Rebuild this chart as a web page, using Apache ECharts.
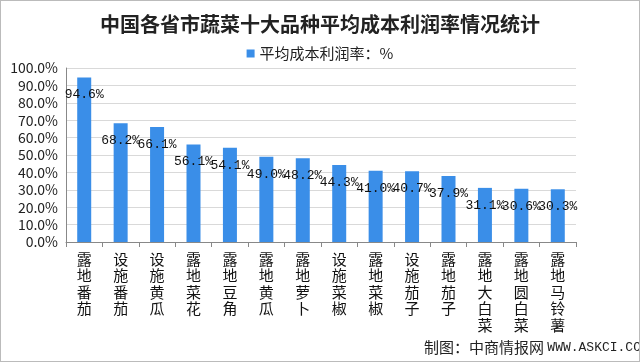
<!DOCTYPE html>
<html><head><meta charset="utf-8">
<script src="https://cdn.jsdelivr.net/npm/echarts@6/dist/echarts.min.js"></script>
<style>html,body{margin:0;padding:0;background:#fff}#c{width:640px;height:362px;box-sizing:border-box;border:1px solid #bbb}</style>
</head><body><div id="c"></div>
<script>
const categories = ['露地番茄','设施番茄','设施黄瓜','露地菜花','露地豆角','露地黄瓜','露地萝卜','设施菜椒','露地菜椒','设施茄子','露地茄子','露地大白菜','露地圆白菜','露地马铃薯'];
const profitRate = [94.6, 68.2, 66.1, 56.1, 54.1, 49.0, 48.2, 44.3, 41.0, 40.7, 37.9, 31.1, 30.6, 30.3];
const titleText = '中国各省市蔬菜十大品种平均成本利润率情况统计';
const seriesName = '平均成本利润率：%';
const sourceLabel = '制图：中商情报网';
const sourceUrl = 'WWW.ASKCI.COM';

const chart = echarts.init(document.getElementById('c'));
chart.setOption({
  animation: false,
  backgroundColor: '#fff',
  title: {
    text: titleText, left: 'center', top: 8,
    textStyle: { fontSize: 20, fontWeight: 'bold', color: '#222', fontFamily: 'Noto Sans CJK SC' }
  },
  legend: {
    top: 40, left: 'center', itemWidth: 8, itemHeight: 8, itemGap: 4,
    icon: 'rect',
    textStyle: { fontSize: 15, color: '#222', fontFamily: 'Noto Sans CJK SC' },
    data: [seriesName]
  },
  graphic: [{
    type: 'text', left: 423, top: 339,
    style: {
      text: '{a|' + sourceLabel + '} {b|' + sourceUrl + '}',
      rich: {
        a: { fontSize: 15, fill: '#222', fontFamily: 'Noto Sans CJK SC' },
        b: { fontSize: 13, fill: '#222', fontFamily: 'Liberation Mono' }
      }
    }
  }],
  grid: { left: 65, right: 63, top: 67, bottom: 119 },
  xAxis: {
    type: 'category', data: categories,
    axisLine: { lineStyle: { color: '#888' } },
    axisTick: { show: true, length: 5, lineStyle: { color: '#888' } },
    axisLabel: {
      interval: 0, margin: 9, fontSize: 15, lineHeight: 16.5, color: '#111',
      fontFamily: 'Noto Sans CJK SC',
      verticalAlign: 'top',
      formatter: v => v.split('').join('\n')
    }
  },
  yAxis: {
    type: 'value', min: 0, max: 100, interval: 10,
    axisLine: { show: true, lineStyle: { color: '#888' } },
    axisTick: { show: false },
    splitLine: { lineStyle: { color: '#d9d9d9' } },
    axisLabel: {
      fontSize: 14, color: '#222', margin: 8, fontFamily: 'Noto Sans CJK SC',
      formatter: v => v.toFixed(1) + '%'
    }
  },
  series: [{
    name: seriesName, type: 'bar', data: profitRate, barWidth: 14,
    itemStyle: { color: '#3a8ee8' },
    label: {
      show: true, position: 'insideTop', distance: 11, color: '#111',
      fontSize: 13, fontFamily: 'Liberation Mono',
      formatter: p => p.value.toFixed(1) + '%'
    }
  }]
});
</script></body></html>
